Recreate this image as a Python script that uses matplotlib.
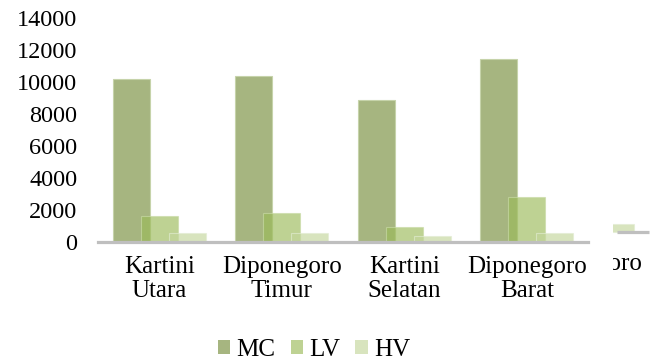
import matplotlib
matplotlib.use('Agg')
from matplotlib import pyplot as plt
from matplotlib.patches import Patch
import numpy as np

plt.rcParams['font.family'] = ['Liberation Serif', 'DejaVu Serif']

categories = ['Kartini\nUtara', 'Diponegoro\nTimur', 'Kartini\nSelatan', 'Diponegoro\nBarat']
series = ['MC', 'LV', 'HV']
mc = [10200, 10400, 8900, 11450]
lv = [1650, 1800, 950, 2830]
hv = [560, 580, 360, 580]
# fifth category, only a clipped sliver is visible on the right
hv_extra = 500
extra_label = 'goro'

colors = ['#a6b580', '#9bbb59', '#c3d69b']
alphas = [1.0, 0.65, 0.65]
edge = ['#c6d3aa', '#c9dba6', '#e2ecd2']

fig = plt.figure(figsize=(6.57, 3.6), dpi=100)
ax = fig.add_axes([98 / 657, 1 - 242 / 360, 490 / 657, 224 / 360])

x = np.arange(len(categories))
w = 0.302
off = 0.229
for i, vals in enumerate([mc, lv, hv]):
    ax.bar(x + (i - 1) * off, vals, w, color=colors[i], alpha=alphas[i],
           edgecolor=edge[i], linewidth=0.8, zorder=2 + i)

ax.set_xlim(-0.5, len(categories) - 0.5)
ax.set_ylim(0, 14000)
ax.set_yticks(range(0, 14001, 2000))
ax.set_xticks(x)
ax.set_xticklabels(categories, linespacing=1.1)
ax.tick_params(axis='y', length=0, pad=15, labelsize=17.5)
ax.tick_params(axis='x', length=0, pad=10, labelsize=18)
for s in ['left', 'right', 'top']:
    ax.spines[s].set_visible(False)
ax.spines['bottom'].set_color('#bfbfbf')
ax.spines['bottom'].set_linewidth(2.3)
ax.spines['bottom'].set_zorder(6)

# shifted sliver of the fifth category at the right edge
ax2 = fig.add_axes([613 / 657, 1 - 280 / 360, 44 / 657, 65 / 360])
ax2.set_xlim(0.2086, 0.5678)
ax2.set_ylim(-3000, 1062.5)
ax2.bar([off], [hv_extra], w, color=colors[2], alpha=alphas[2],
        edgecolor=edge[2], linewidth=0.8, zorder=2)
ax2.plot([0.2412, 0.5024], [0, 0], color='#bfbfbf', lw=2.3, zorder=3,
         solid_capstyle='butt')
ax2.text(0.4535, -2000, extra_label, ha='right', va='center', fontsize=18,
         clip_on=True)
ax2.axis('off')

handles = [Patch(facecolor=colors[i], alpha=alphas[i] if i else 1.0) for i in range(3)]
fig.legend(handles, series, loc='center', bbox_to_anchor=(0.478, 0.028),
           ncol=3, frameon=False, fontsize=18, handlelength=0.5,
           handleheight=0.5, handletextpad=0.25, columnspacing=0.6)

fig.savefig('out.png', dpi=100)
